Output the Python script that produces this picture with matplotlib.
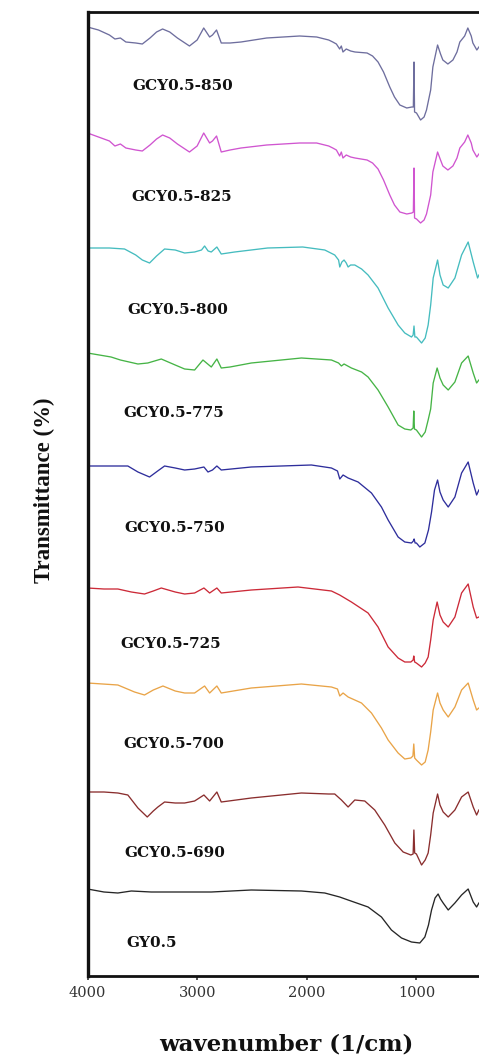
import matplotlib
matplotlib.use("Agg")
import matplotlib.pyplot as plt

# ---------------- data (wavenumber in 1/cm, transmittance in arbitrary stacked units) ----------------
wn_850 = [4000,3900,3800,3750,3700,3650,3560,3500,3430,3370,3315,3250,3180,3070,3000,2940,2886,2860,2823,2780,
          2700,2600,2366,2065,1910,1800,1763,1730,1700,1685,1670,1640,1600,1560,1450,1400,1350,1300,1243,1200,
          1151,1088,1042,1028,1022,1017,999,962,930,908,870,850,807,780,759,713,667,630,604,560,531,500,485,449,430]
t_850 = [950,947,942,938,939,935,934,933,939,945,948,945,939,931,937,949,940,942,947,934,
         934,935,939,941,940,937,935,933,928,931,925,928,926,925,924,921,915,905,890,880,
         872,869,870,870,915,865,864,857,860,867,887,910,932,923,917,913,917,925,935,941,949,941,934,927,930]

wn_825 = [4000,3900,3800,3750,3700,3650,3560,3500,3430,3370,3315,3250,3180,3070,3000,2940,2886,2860,2823,2780,
          2700,2600,2366,2065,1910,1800,1763,1730,1700,1685,1670,1640,1600,1560,1450,1400,1350,1300,1243,1200,
          1151,1088,1042,1028,1022,1017,999,962,930,908,870,850,807,780,759,713,667,630,604,560,531,500,485,449,430]
t_825 = [844,840,836,831,833,829,827,826,832,838,842,839,833,825,831,844,834,836,841,825,
         827,829,832,834,834,831,829,827,821,825,819,822,820,819,817,814,808,797,782,772,
         765,763,764,765,809,759,758,754,757,763,782,805,825,817,811,807,811,819,829,835,842,834,827,820,823]

wn_800 = [4000,3800,3662,3560,3500,3434,3370,3297,3200,3114,3023,2960,2932,2900,2871,2820,2780,2658,2357,2037,
          1836,1745,1710,1699,1680,1660,1640,1623,1600,1562,1500,1441,1350,1258,1167,1106,1045,1030,1022,1014,
          1000,953,920,893,870,847,807,785,756,710,649,588,528,482,442,430]
t_800 = [729,729,728,722,717,714,721,728,727,724,725,727,731,726,725,730,723,725,729,730,
         727,722,717,710,715,717,714,710,712,712,708,702,689,669,652,644,640,642,651,640,
         640,634,639,652,672,699,717,702,692,689,699,722,735,715,699,702]

wn_775 = [4000,3785,3700,3540,3450,3327,3200,3114,3023,2947,2871,2820,2780,2700,2506,2049,1775,1710,1684,1660,
          1593,1500,1441,1350,1258,1167,1106,1051,1030,1024,1018,1000,953,920,893,870,847,811,785,756,
          710,649,588,528,482,451,430]
t_775 = [624,620,617,613,614,618,612,608,607,617,610,618,609,610,614,619,617,614,611,613,
         609,605,600,587,570,552,548,547,549,566,548,547,540,545,557,568,594,609,599,592,
         587,595,614,621,604,594,597]

wn_750 = [4000,3800,3632,3540,3434,3360,3297,3200,3114,3023,2938,2901,2860,2820,2780,2506,1958,1775,1720,1699,
          1669,1623,1532,1410,1319,1258,1167,1106,1045,1028,1021,1012,1000,969,923,890,862,835,807,785,
          756,710,649,588,528,482,451,430]
t_750 = [511,511,511,505,500,506,511,509,507,508,510,505,507,511,507,510,512,509,506,498,
         502,499,495,484,470,457,440,435,434,436,438,434,434,430,434,447,465,487,497,485,
         477,470,480,504,515,494,482,487]

wn_725 = [4000,3850,3723,3600,3480,3400,3327,3200,3114,3023,2938,2886,2820,2780,2506,2080,1775,1700,1593,1441,
          1350,1258,1167,1106,1051,1030,1024,1016,1000,953,920,893,870,847,811,785,756,710,649,588,
          528,482,451,430]
t_725 = [389,388,388,385,383,386,389,385,383,384,389,384,389,384,387,390,386,382,375,364,
         350,330,319,315,315,317,321,315,314,310,314,320,337,357,375,362,355,350,360,384,
         393,370,359,360]

wn_700 = [4000,3723,3571,3480,3400,3312,3200,3114,3023,2932,2886,2820,2780,2506,2049,1775,1720,1699,1669,1623,
          1501,1410,1319,1258,1167,1106,1051,1032,1024,1016,1000,953,920,893,870,847,807,785,756,710,
          649,588,528,482,451,430]
t_700 = [294,292,285,282,287,291,286,284,284,291,284,291,284,289,293,290,288,281,284,280,
         274,264,249,237,224,218,219,221,233,219,217,212,215,227,245,267,284,274,267,260,
         270,287,294,277,267,269]

wn_690 = [4000,3850,3723,3632,3540,3455,3400,3358,3297,3200,3114,3023,2938,2886,2820,2780,2506,2049,1800,1745,
          1684,1623,1562,1471,1380,1289,1197,1121,1051,1030,1023,1016,1000,953,920,893,870,847,807,785,
          756,710,649,588,528,482,451,430]
t_690 = [185,185,184,182,169,160,166,170,175,174,174,176,182,176,185,175,179,184,183,183,
         177,170,177,176,167,152,134,125,122,123,147,124,123,112,117,124,142,164,183,172,
         165,160,167,180,185,170,162,167]

wn_gy = [4000,3850,3723,3600,3419,3200,2950,2871,2506,2049,1836,1700,1623,1441,1319,1228,1136,1045,969,923,
         890,862,830,802,780,756,710,649,588,528,482,451,430]
t_gy = [88,85,84,86,85,85,85,85,87,86,84,80,77,70,60,47,39,35,34,40,
        52,67,79,83,78,74,67,74,82,88,75,70,74]

labels = ["GCY0.5-850", "GCY0.5-825", "GCY0.5-800", "GCY0.5-775", "GCY0.5-750",
          "GCY0.5-725", "GCY0.5-700", "GCY0.5-690", "GY0.5"]
x_ticks = [4000, 3000, 2000, 1000]

# ---------------- styling / layout ----------------
colors = ["#6e6e9e", "#d055d0", "#45bcbf", "#46b446", "#2e2e9c",
          "#cc2a38", "#e9a448", "#8a2e2e", "#262626"]
label_x = [3589, 3601, 3635, 3671, 3662, 3699, 3671, 3662, 3644]
label_y = [891, 780, 667, 564, 449, 333, 233, 124, 34]

series = [(wn_850, t_850), (wn_825, t_825), (wn_800, t_800), (wn_775, t_775), (wn_750, t_750),
          (wn_725, t_725), (wn_700, t_700), (wn_690, t_690), (wn_gy, t_gy)]

W, H = 479, 1062
fig = plt.figure(figsize=(W / 100, H / 100), dpi=100)
ax = fig.add_axes([87.5 / W, (H - 976) / H, (482.2 - 87.5) / W, (976 - 12) / H])

for (wn, t), c in zip(series, colors):
    ax.plot(wn, t, color=c, lw=0.95, solid_joinstyle="round")

for lab, lx, ly in zip(labels, label_x, label_y):
    ax.text(lx, ly, lab, ha="left", va="center", fontsize=11, fontweight="bold",
            family="DejaVu Serif", color="#111111")

ax.set_xlim(4000, 400)
ax.set_ylim(1, 965)
ax.set_xticks(x_ticks)
ax.set_xticklabels([str(v) for v in x_ticks], family="DejaVu Serif", fontsize=10.5, color="#333333")
ax.set_yticks([])
ax.tick_params(axis="x", direction="out", length=3, width=1.2, pad=4, color="#333333")

ax.spines["left"].set_linewidth(2.4)
ax.spines["bottom"].set_linewidth(2.0)
ax.spines["top"].set_linewidth(2.0)
ax.spines["right"].set_visible(False)
for s in ("left", "bottom", "top"):
    ax.spines[s].set_color("#111111")

fig.text(286.7 / W, 1 - 1045 / H, "wavenumber (1/cm)", ha="center", va="center",
         fontsize=16.5, fontweight="bold", family="DejaVu Serif", color="#111111")
fig.text(44 / W, 1 - 490 / H, "Transmittance (%)", ha="center", va="center", rotation=90,
         fontsize=16.5, fontweight="bold", family="Liberation Serif", color="#111111")

fig.savefig("out.png", dpi=100)
